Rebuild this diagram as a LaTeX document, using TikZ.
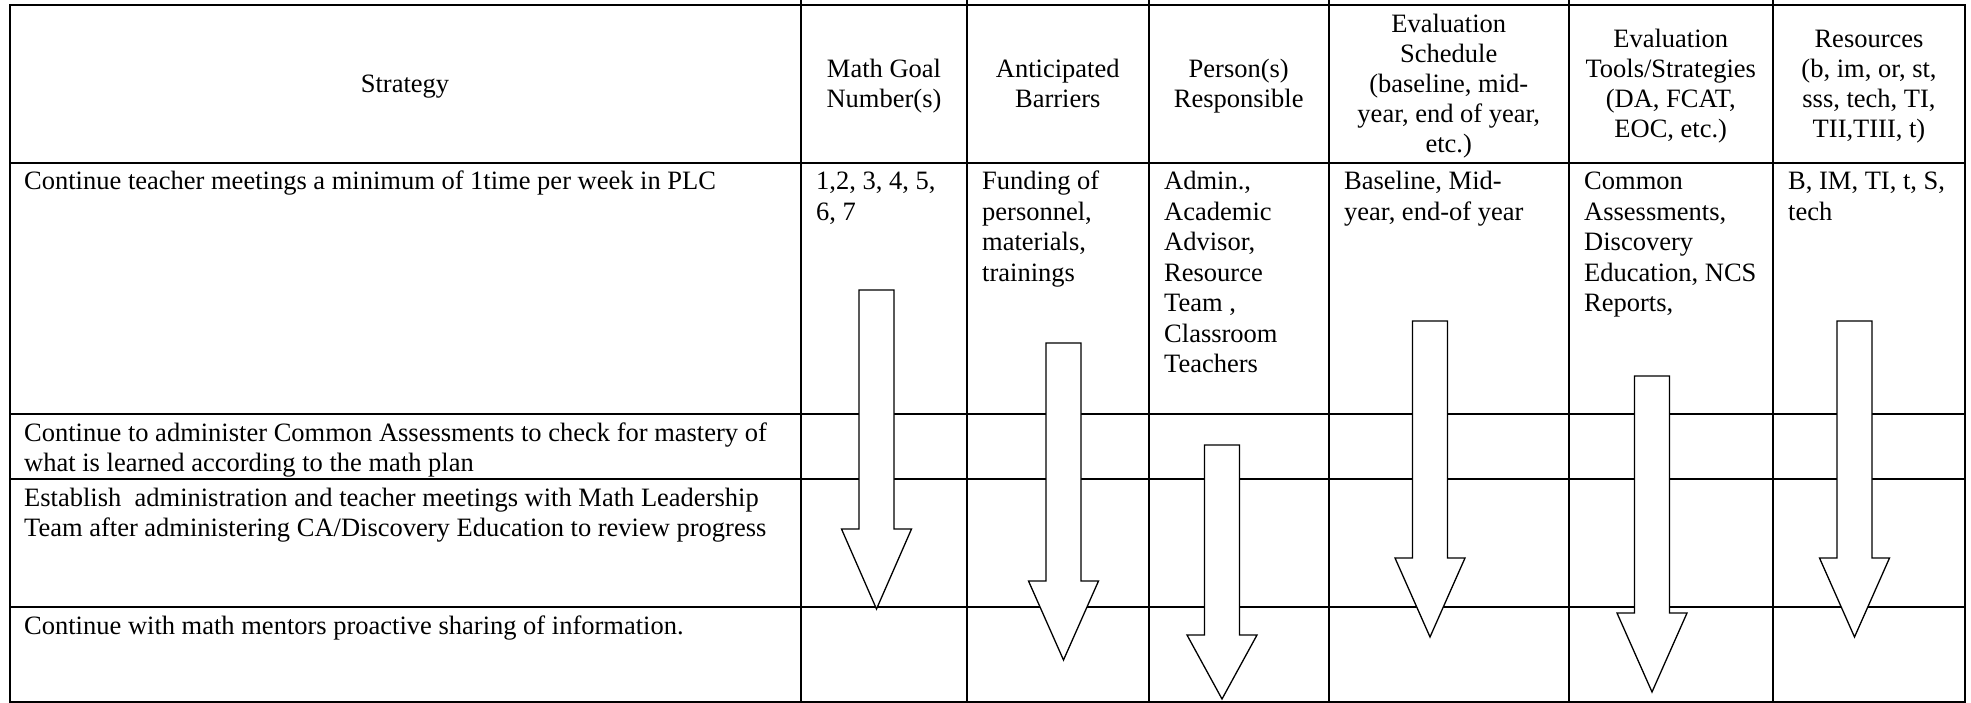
\documentclass[tikz,border=0pt]{standalone}
\usepackage{fontspec}
\setmainfont{Liberation Serif}
\newcommand\cellfont{\fontsize{26.5}{30.5}\selectfont}
\newcommand\headfont{\fontsize{26.5}{30}\selectfont}
\newcommand\ptext[2]{\parbox[t]{#1}{\raggedright #2}}
\newcommand\ctext[2]{\parbox[t]{#1}{\centering #2}}
\newcommand\dnarrow[4]{%
  \draw[blockarr] (#1-17.5,#2) -- (#1+17.5,#2) -- (#1+17.5,#3) -- (#1+35,#3)
    -- (#1,#4) -- (#1-35,#3) -- (#1-17.5,#3) -- cycle;}
\begin{document}
\begin{tikzpicture}[x=1pt,y=-1pt,
  grid/.style={line width=2pt},
  blockarr/.style={draw=black, fill=white, line width=1.3pt, line join=miter},
  cell/.style={anchor=base west, inner sep=0pt, font=\cellfont},
  head/.style={anchor=base, inner sep=0pt, font=\headfont}]
\useasboundingbox (0,0) rectangle (1971,703);
% grid
\draw[grid] (9.5,5) rectangle (1965,702);
\foreach \yy in {163.5,414,479,607} \draw[grid] (9.5,\yy) -- (1965,\yy);
\foreach \xx in {801,967,1148.5,1329,1568.5,1773} \draw[grid] (\xx,0) -- (\xx,702);
% header
\node[head] (hstrat) at (405,93) {\ctext{700pt}{Strategy}};
\node[head] (hgoal) at (884,78) {\ctext{300pt}{Math Goal\\Number(s)}};
\node[head] (hbar) at (1057.75,78) {\ctext{300pt}{Anticipated\\Barriers}};
\node[head] (hper) at (1238.75,78) {\ctext{300pt}{Person(s)\\Responsible}};
\node[head] (hsch) at (1448.75,33) {\ctext{300pt}{Evaluation\\Schedule\\(baseline, mid-\\year, end of year,\\etc.)}};
\node[head] (htool) at (1670.75,48) {\ctext{300pt}{Evaluation\\Tools/Strategies\\(DA, FCAT,\\EOC, etc.)}};
\node[head] (hres) at (1869,48) {\ctext{300pt}{Resources\\(b, im, or, st,\\sss, tech, TI,\\TII,TIII, t)}};
% row 1
\node[cell] (s1) at (24,190) {\ptext{780pt}{Continue teacher meetings a minimum of 1time per week in PLC}};
\node[cell] (g1) at (816,190) {\ptext{300pt}{1,2, 3, 4, 5,\\6, 7}};
\node[cell] (b1) at (982,190) {\ptext{300pt}{Funding of\\personnel,\\materials,\\trainings}};
\node[cell] (p1) at (1164,190) {\ptext{300pt}{Admin.,\\Academic\\Advisor,\\Resource\\Team ,\\Classroom\\Teachers}};
\node[cell] (e1) at (1344,190) {\ptext{300pt}{Baseline, Mid-\\year, end-of year}};
\node[cell] (t1) at (1584,190) {\ptext{300pt}{Common\\Assessments,\\Discovery\\Education, NCS\\Reports,}};
\node[cell] (r1) at (1788,190) {\ptext{300pt}{B, IM, TI, t, S,\\tech}};
% rows 2-4
\node[cell] (s2) at (24,441) {\ptext{900pt}{Continue to administer Common Assessments to check for mastery of\\what is learned according to the math plan}};
\node[cell] (s3) at (24,506) {\ptext{900pt}{Establish\ \ administration and teacher meetings with Math Leadership\\Team after administering CA/Discovery Education to review progress}};
\node[cell] (s4) at (24,634) {\ptext{900pt}{Continue with math mentors proactive sharing of information.}};
% block arrows
\dnarrow{876.5}{290}{529}{609}
\dnarrow{1063.5}{343}{581}{660}
\dnarrow{1222}{445}{635}{699}
\dnarrow{1430}{321}{558}{637}
\dnarrow{1652}{376}{613}{692}
\dnarrow{1854.5}{321}{558}{637}
\end{tikzpicture}
\end{document}
